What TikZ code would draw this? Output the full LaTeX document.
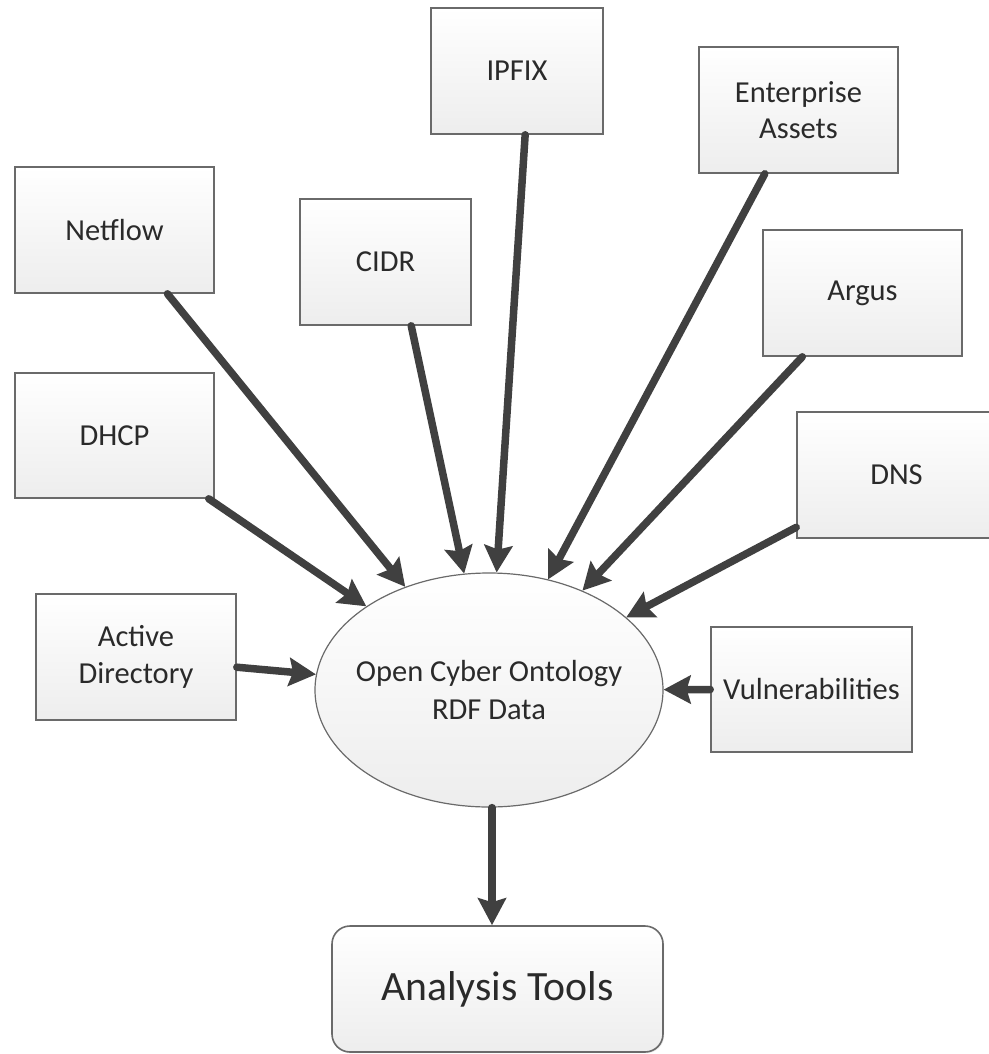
\documentclass[tikz,border=0pt]{standalone}
\usepackage{fontspec}
\setmainfont{Carlito}
\usetikzlibrary{arrows.meta,calc,shadows,shapes.geometric}

\definecolor{arrowgray}{HTML}{404040}
\definecolor{edgegray}{HTML}{6A6A6A}
\definecolor{textgray}{HTML}{2A2A2A}

\tikzset{
  srcbox/.style={rectangle, draw=edgegray, line width=1.6pt,
    top color=white, bottom color=black!7,
    drop shadow={opacity=0.18, shadow xshift=1.2pt, shadow yshift=-1.2pt},
    minimum width=199pt, minimum height=126pt, inner sep=0pt,
    align=center, text=textgray,
    font=\fontsize{30.5}{36.6}\selectfont},
  hub/.style={ellipse, draw=edgegray, line width=1.2pt,
    top color=white, bottom color=black!7,
    minimum width=348pt, minimum height=234pt, inner xsep=-16pt, inner ysep=0pt,
    align=center, text=textgray,
    font=\fontsize{30.5}{37.5}\selectfont},
  toolbox/.style={rectangle, rounded corners=18pt, draw=edgegray, line width=1.6pt,
    top color=white, bottom color=black!7,
    drop shadow={opacity=0.18, shadow xshift=1.2pt, shadow yshift=-1.2pt},
    minimum width=331pt, minimum height=126pt, inner sep=0pt,
    text=textgray, font=\fontsize{41.7}{50}\selectfont},
  feed/.style={draw=arrowgray, line width=7.5pt, line cap=round,
    -{Stealth[length=27pt,width=28pt,inset=4pt]}},
}

\begin{document}
\begin{tikzpicture}[x=1pt,y=-1pt]
\useasboundingbox (0,0) rectangle (988,1054);

% data sources
\node[srcbox, minimum width=172pt] (ipfix) at (517,71) {IPFIX};
\node[srcbox] (assets) at (798.5,110) {Enterprise\\Assets};
\node[srcbox] (netflow) at (114.5,230) {Netflow};
\node[srcbox, minimum width=171pt] (cidr) at (385.5,262) {CIDR};
\node[srcbox] (argus) at (862.5,293) {Argus};
\node[srcbox, minimum height=125pt] (dhcp) at (114.5,435.5) {DHCP};
\node[srcbox] (dns) at (896.5,475) {DNS};
\node[srcbox, minimum width=200pt] (ad) at (136,657) {Active\\Directory};
\node[srcbox, minimum width=201pt, minimum height=125pt] (vuln) at (811.5,689.5) {Vulnerabilities};

% central store and consumer
\node[hub] (ocd) at (489,690) {Open Cyber Ontology\\RDF Data};
\node[toolbox] (tools) at (497.5,989) {Analysis Tools};

% connector start points on the source boxes
\coordinate (s-netflow) at ($(netflow.south west)!0.764!(netflow.south east)$);
\coordinate (s-cidr)    at ($(cidr.south west)!0.649!(cidr.south east)$);
\coordinate (s-ipfix)   at ($(ipfix.south west)!0.547!(ipfix.south east)$);
\coordinate (s-assets)  at ($(assets.south west)!0.332!(assets.south east)$);
\coordinate (s-argus)   at ($(argus.south west)!0.20!(argus.south east)$);
\coordinate (s-dns)     at ($(dns.north west)!0.91!(dns.south west)$);
\coordinate (s-dhcp)    at ($(dhcp.south west)!0.97!(dhcp.south east)$);
\coordinate (s-ad)      at ($(ad.north east)!0.58!(ad.south east)$);
\coordinate (s-ocd)     at ($(ocd.south)+(3,0)$);

% feeds into the ontology store
\draw[feed] (s-netflow) -- (ocd);
\draw[feed] (s-cidr) -- (ocd);
\draw[feed] (s-ipfix) -- (ocd);
\draw[feed] (s-assets) -- (ocd);
\draw[feed] (s-argus) -- (ocd);
\draw[feed] (s-dns) -- (ocd);
\draw[feed] (s-dhcp) -- (ocd);
\draw[feed] (s-ad) -- (ocd);
\draw[feed] (vuln.west) -- (ocd);

% output to analysis
\draw[feed] (s-ocd) -- (s-ocd |- tools.north);
\end{tikzpicture}
\end{document}
